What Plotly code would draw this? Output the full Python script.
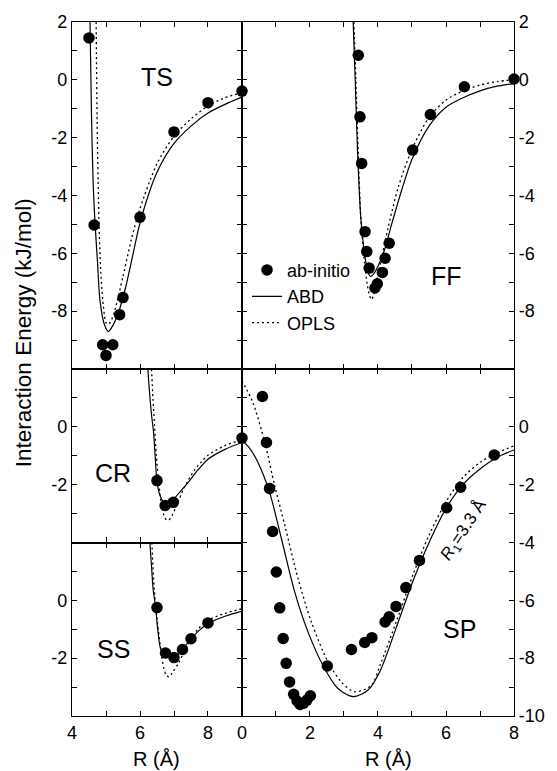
import plotly.graph_objects as go

# ---------------- data ----------------
# TS panel (left top)
ts_ab_x = [4.5, 4.65, 4.9, 5.0, 5.2, 5.4, 5.5, 6.0, 7.0, 8.0, 9.0]
ts_ab_y = [1.45, -5.02, -9.16, -9.53, -9.16, -8.12, -7.53, -4.75, -1.8, -0.79, -0.39]
ts_abd_x = [4.53, 4.57, 4.62, 4.68, 4.75, 4.82, 4.95, 5.07, 5.2, 5.36, 5.56, 5.8, 6.0, 6.5, 7.0, 7.5, 8.0, 8.5, 9.0]
ts_abd_y = [2.0, -1.0, -3.5, -5.0, -6.3, -7.6, -8.45, -8.7, -8.5, -8.07, -7.26, -6.0, -4.95, -3.2, -2.2, -1.6, -1.15, -0.85, -0.6]
ts_opls_x = [4.71, 4.74, 4.78, 4.84, 4.92, 5.0, 5.05, 5.12, 5.25, 5.5, 5.75, 6.0, 6.5, 7.0, 7.5, 8.0, 8.5, 9.0]
ts_opls_y = [2.0, -1.5, -4.2, -6.5, -7.8, -8.4, -8.45, -8.4, -8.0, -6.8, -5.5, -4.45, -2.9, -1.95, -1.35, -0.9, -0.62, -0.45]

# FF panel (right top)
ff_ab_x = [3.42, 3.47, 3.52, 3.62, 3.67, 3.74, 3.91, 3.98, 4.13, 4.21, 4.33, 5.02, 5.54, 6.54, 8.0]
ff_ab_y = [0.85, -1.28, -2.89, -5.25, -5.94, -6.51, -7.2, -7.05, -6.66, -6.17, -5.65, -2.43, -1.2, -0.24, 0.03]
ff_abd_x = [3.27, 3.33, 3.40, 3.49, 3.58, 3.65, 3.72, 3.78, 3.88, 4.0, 4.2, 4.4, 4.7, 5.0, 5.5, 6.0, 6.5, 7.0, 7.5, 8.0]
ff_abd_y = [2.0, 0.0, -2.5, -4.7, -5.8, -6.35, -6.7, -6.8, -6.7, -6.45, -5.85, -5.0, -3.8, -2.75, -1.6, -0.95, -0.62, -0.38, -0.22, -0.13]
ff_opls_x = [3.29, 3.35, 3.42, 3.5, 3.6, 3.68, 3.75, 3.81, 3.87, 3.95, 4.1, 4.3, 4.6, 5.0, 5.5, 6.0, 6.5, 7.0, 7.5, 8.0]
ff_opls_y = [2.0, 0.0, -2.6, -4.9, -6.3, -7.05, -7.45, -7.6, -7.45, -7.0, -6.2, -5.1, -3.7, -2.4, -1.3, -0.7, -0.38, -0.18, -0.06, 0.0]

# CR panel (left middle)
cr_ab_x = [6.5, 6.74, 6.98, 9.0]
cr_ab_y = [-1.86, -2.72, -2.61, -0.39]
cr_abd_x = [6.23, 6.28, 6.34, 6.40, 6.45, 6.5, 6.58, 6.68, 6.8, 6.95, 7.1, 7.4, 7.7, 8.0, 8.5, 9.0]
cr_abd_y = [2.0, 1.2, 0.4, -0.2, -1.1, -1.9, -2.35, -2.58, -2.63, -2.55, -2.35, -1.95, -1.5, -1.12, -0.78, -0.54]
cr_opls_x = [6.34, 6.38, 6.43, 6.48, 6.55, 6.62, 6.7, 6.78, 6.85, 6.95, 7.1, 7.3, 7.6, 7.8, 8.0, 8.5, 9.0]
cr_opls_y = [2.0, 1.0, 0.0, -1.0, -1.9, -2.6, -3.05, -3.22, -3.22, -3.05, -2.65, -2.1, -1.5, -1.22, -0.98, -0.65, -0.45]

# SS panel (left bottom)
ss_ab_x = [6.5, 6.75, 7.0, 7.25, 7.5, 8.0]
ss_ab_y = [-0.25, -1.82, -1.98, -1.70, -1.33, -0.78]
ss_abd_x = [6.29, 6.34, 6.39, 6.46, 6.52, 6.59, 6.66, 6.75, 6.9, 7.05, 7.25, 7.5, 7.75, 8.0, 8.5, 9.0]
ss_abd_y = [2.0, 1.15, 0.34, -0.23, -1.0, -1.6, -1.8, -1.88, -1.96, -1.95, -1.7, -1.33, -1.03, -0.8, -0.55, -0.37]
ss_opls_x = [6.35, 6.38, 6.42, 6.47, 6.54, 6.62, 6.7, 6.78, 6.85, 6.95, 7.13, 7.42, 7.7, 8.0, 8.5, 9.0]
ss_opls_y = [2.0, 1.2, 0.4, -0.3, -1.03, -1.8, -2.35, -2.6, -2.65, -2.5, -2.18, -1.49, -1.0, -0.69, -0.45, -0.29]

# SP panel (right bottom)
sp_ab_x = [0.60, 0.72, 0.81, 0.90, 1.01, 1.11, 1.21, 1.30, 1.40, 1.52, 1.62, 1.71, 1.81, 1.91, 2.01,
           2.51, 3.22, 3.61, 3.82, 4.21, 4.33, 4.53, 4.82, 5.22, 6.02, 6.43, 7.42]
sp_ab_y = [1.05, -0.54, -2.13, -3.62, -5.02, -6.26, -7.32, -8.18, -8.82, -9.25, -9.48, -9.6, -9.56, -9.45, -9.3,
           -8.27, -7.7, -7.46, -7.29, -6.75, -6.57, -6.21, -5.56, -4.62, -2.80, -2.09, -0.97]
sp_abd_x = [0.0, 0.2, 0.47, 0.81, 1.16, 1.55, 1.94, 2.43, 2.82, 3.27, 3.71, 4.06, 4.55, 5.04, 5.53, 6.02, 6.51, 7.0, 7.49, 8.0]
sp_abd_y = [-0.48, -0.7, -1.23, -2.26, -3.87, -5.71, -7.09, -8.36, -9.05, -9.33, -9.1, -8.45, -6.9, -5.3, -3.93, -2.78, -1.98, -1.46, -1.06, -0.8]
sp_opls_x = [0.0, 0.32, 0.67, 0.96, 1.26, 1.65, 2.04, 2.53, 2.92, 3.3, 3.8, 4.06, 4.55, 5.04, 5.5, 6.02, 6.5, 7.0, 7.5, 8.0]
sp_opls_y = [1.59, 0.84, -0.54, -2.03, -3.41, -5.25, -6.75, -8.13, -8.82, -9.16, -8.95, -8.25, -6.7, -5.08, -3.75, -2.55, -1.75, -1.23, -0.9, -0.66]

panel_names = ["TS", "FF", "CR", "SS", "SP"]

# ---------------- figure ----------------
FONT = "Liberation Sans, Arial, Helvetica, sans-serif"
fig = go.Figure()

panels = [
    ("x", "y", ts_ab_x, ts_ab_y, ts_abd_x, ts_abd_y, ts_opls_x, ts_opls_y, False),
    ("x2", "y2", ff_ab_x, ff_ab_y, ff_abd_x, ff_abd_y, ff_opls_x, ff_opls_y, True),
    ("x3", "y3", cr_ab_x, cr_ab_y, cr_abd_x, cr_abd_y, cr_opls_x, cr_opls_y, False),
    ("x4", "y4", ss_ab_x, ss_ab_y, ss_abd_x, ss_abd_y, ss_opls_x, ss_opls_y, False),
    ("x5", "y5", sp_ab_x, sp_ab_y, sp_abd_x, sp_abd_y, sp_opls_x, sp_opls_y, False),
]

for xa, ya, abx, aby, sx, sy, ox, oy, leg in panels:
    fig.add_trace(go.Scatter(x=sx, y=sy, xaxis=xa, yaxis=ya, mode="lines", name="ABD",
                             line=dict(color="black", width=1.2, shape="spline", smoothing=0.8),
                             showlegend=leg, legendrank=2))
    fig.add_trace(go.Scatter(x=ox, y=oy, xaxis=xa, yaxis=ya, mode="lines", name="OPLS",
                             line=dict(color="black", width=1.3, dash="2px,3px", shape="spline", smoothing=0.8),
                             showlegend=leg, legendrank=3))
    fig.add_trace(go.Scatter(x=abx, y=aby, xaxis=xa, yaxis=ya, mode="markers", name="ab-initio",
                             marker=dict(color="black", size=11.5), cliponaxis=False,
                             showlegend=leg, legendrank=1))

XL = 0.3846  # boundary between columns


def num_text(vals, shown):
    return [str(v) if v in shown else "" for v in vals]


axis_common = dict(showgrid=False, zeroline=False, showline=True, linecolor="black", linewidth=1.1,
                   ticks="inside", ticklen=5, tickcolor="black", tickwidth=1, mirror="ticks",
                   tickfont=dict(family=FONT, size=18, color="black"))

left_x_vals = [4, 5, 6, 7, 8, 9]
right_x_vals = [0, 1, 2, 3, 4, 5, 6, 7, 8]
big_y_vals = list(range(-10, 3))
small_y_vals = list(range(-4, 3))

fig.update_layout(
    xaxis=dict(domain=[0, XL], anchor="y", range=[4, 9], tickvals=left_x_vals, showticklabels=False, **axis_common),
    yaxis=dict(domain=[0.5, 1], anchor="x", range=[-10, 2], tickvals=big_y_vals,
               ticktext=num_text(big_y_vals, [2, 0, -2, -4, -6, -8]), **axis_common),
    xaxis2=dict(domain=[XL, 1], anchor="y2", range=[0, 8], tickvals=right_x_vals, showticklabels=False, **axis_common),
    yaxis2=dict(domain=[0.5, 1], anchor="x2", range=[-10, 2], side="right", tickvals=big_y_vals,
                ticktext=num_text(big_y_vals, [2, 0, -2, -4, -6, -8]), **axis_common),
    xaxis3=dict(domain=[0, XL], anchor="y3", range=[4, 9], tickvals=left_x_vals, showticklabels=False, **axis_common),
    yaxis3=dict(domain=[0.25, 0.5], anchor="x3", range=[-4, 2], tickvals=small_y_vals,
                ticktext=num_text(small_y_vals, [0, -2]), **axis_common),
    xaxis4=dict(domain=[0, XL], anchor="y4", range=[4, 9], tickvals=left_x_vals,
                ticktext=num_text(left_x_vals, [4, 6, 8]), **axis_common),
    yaxis4=dict(domain=[0, 0.25], anchor="x4", range=[-4, 2], tickvals=small_y_vals,
                ticktext=num_text(small_y_vals, [0, -2]), **axis_common),
    xaxis5=dict(domain=[XL, 1], anchor="y5", range=[0, 8], tickvals=right_x_vals,
                ticktext=num_text(right_x_vals, [0, 2, 4, 6, 8]), **axis_common),
    yaxis5=dict(domain=[0, 0.5], anchor="x5", range=[-10, 2], side="right", tickvals=big_y_vals,
                ticktext=num_text(big_y_vals, [0, -2, -4, -6, -8, -10]), **axis_common),
)

annotations = []
label_pos = {"TS": (0.1916, 0.921), "FF": (0.8477, 0.6336), "CR": (0.0935, 0.3499),
             "SS": (0.0935, 0.0972), "SP": (0.8778, 0.125)}
for name in panel_names:
    px, py = label_pos[name]
    annotations.append(dict(text=name, x=px, y=py, xref="paper", yref="paper", showarrow=False,
                            xanchor="center", yanchor="middle",
                            font=dict(family=FONT, size=25, color="black")))

annotations.append(dict(text="Interaction Energy (kJ/mol)", x=-0.108, y=0.552, xref="paper", yref="paper",
                        showarrow=False, textangle=-90, xanchor="center", yanchor="middle",
                        font=dict(family=FONT, size=22.5, color="black")))
for xx in [0.1916, 0.717]:
    annotations.append(dict(text="R (Å)", x=xx, y=-0.062, xref="paper", yref="paper", showarrow=False,
                            xanchor="center", yanchor="middle",
                            font=dict(family=FONT, size=20, color="black")))
annotations.append(dict(text="<i>R</i><sub>1</sub>=3.3 Å", x=0.887, y=0.267, xref="paper", yref="paper",
                        showarrow=False, textangle=-57, xanchor="center", yanchor="middle",
                        font=dict(family=FONT, size=17, color="black")))

fig.update_layout(
    width=557, height=771,
    margin=dict(l=72, r=43, t=20, b=55),
    paper_bgcolor="white", plot_bgcolor="white",
    font=dict(family=FONT, size=18, color="black"),
    annotations=annotations,
    legend=dict(x=0.396, y=0.669, xanchor="left", yanchor="top", bgcolor="rgba(0,0,0,0)",
                font=dict(family=FONT, size=18, color="black"), itemwidth=30,
                borderwidth=0, tracegroupgap=0),
)

fig.write_html("out.html")
